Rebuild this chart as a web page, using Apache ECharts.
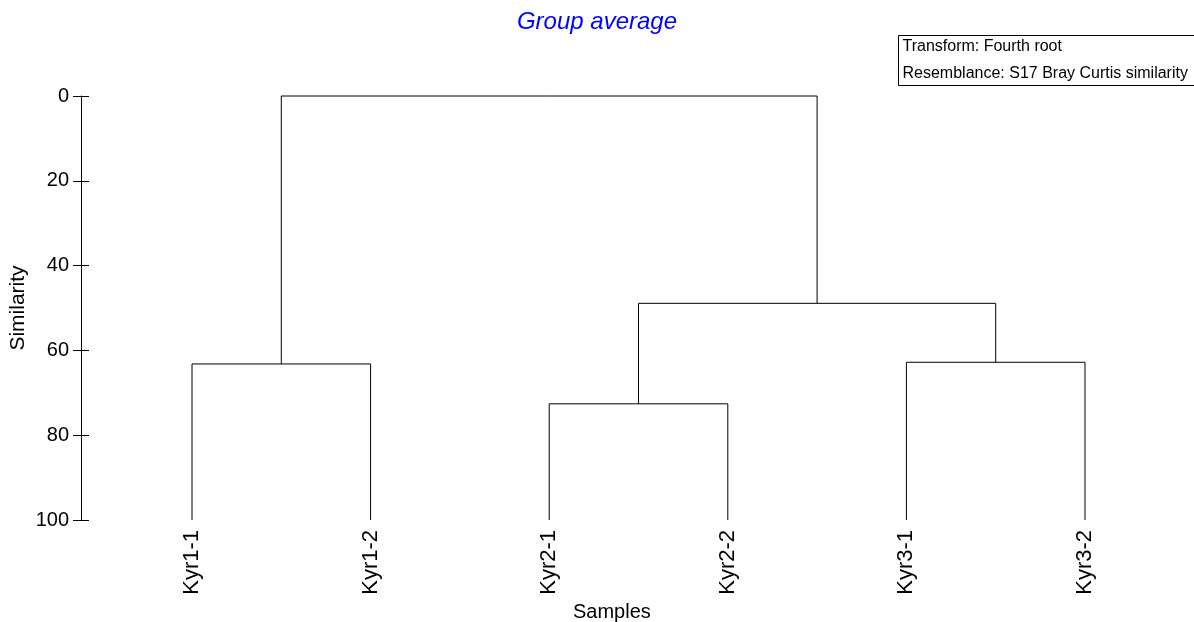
<!DOCTYPE html>
<html>
<head>
<meta charset="utf-8">
<title>Group average</title>
<script src="https://cdn.jsdelivr.net/npm/echarts@6/dist/echarts.min.js"></script>
<style>
  html, body { margin: 0; padding: 0; background: #fff; }
  #chart { width: 1194px; height: 622px; }
</style>
</head>
<body>
<div id="chart"></div>
<script>
// Samples (leaves of the dendrogram), in plotting order
const samples = ['Kyr1-1', 'Kyr1-2', 'Kyr2-1', 'Kyr2-2', 'Kyr3-1', 'Kyr3-2'];

// Agglomeration steps: leaves are ids 0..5, each merge gets the next id (6, 7, ...)
const mergeLeft = [0, 2, 4, 7, 6];
const mergeRight = [1, 3, 5, 8, 9];
const mergeSimilarity = [63.2, 72.6, 62.8, 48.9, 0];

// Similarity axis ticks
const similarityTicks = [0, 20, 40, 60, 80, 100];

const infoLines = ['Transform: Fourth root', 'Resemblance: S17 Bray Curtis similarity'];

// Node positions: leaves sit at their index with similarity 100,
// merged clusters sit midway between their children.
const nodeX = samples.map((_, i) => i);
const nodeH = samples.map(() => 100);
const links = [];
for (let k = 0; k < mergeLeft.length; k++) {
  const a = mergeLeft[k], b = mergeRight[k], h = mergeSimilarity[k];
  links.push([nodeX[a], nodeH[a], nodeX[b], nodeH[b], h]);
  nodeX.push((nodeX[a] + nodeX[b]) / 2);
  nodeH.push(h);
}

const FONT = 'Liberation Sans, Arial, sans-serif';
const axisOffset = 21.7;

const chart = echarts.init(document.getElementById('chart'), null, { renderer: 'canvas' });

const simAxisBase = {
  type: 'value',
  inverse: true,
  min: similarityTicks[0],
  max: similarityTicks[similarityTicks.length - 1],
  interval: similarityTicks[1] - similarityTicks[0],
  position: 'left',
  offset: axisOffset,
  splitLine: { show: false }
};

chart.setOption({
  animation: false,
  backgroundColor: '#ffffff',
  title: {
    text: 'Group average',
    left: 'center',
    top: 5,
    textStyle: { color: '#0000ff', fontStyle: 'italic', fontWeight: 'normal', fontSize: 24, fontFamily: FONT }
  },
  grid: { left: 102.7, right: 19.7, top: 96, bottom: 102, outerBoundsMode: 'none', containLabel: false },
  xAxis: [
    {
      type: 'category',
      data: samples,
      position: 'bottom',
      axisLine: { show: false },
      axisTick: { show: false },
      axisLabel: { rotate: 90, margin: 10, fontSize: 22, color: '#000', fontFamily: FONT }
    },
    {
      type: 'value',
      min: -0.5,
      max: 5.5,
      show: false
    }
  ],
  yAxis: [
    Object.assign({}, simAxisBase, {
      axisLine: { show: true, onZero: false, lineStyle: { color: '#000', width: 1 } },
      axisTick: { show: true, length: 8, lineStyle: { color: '#000', width: 1 } },
      axisLabel: { margin: 12, fontSize: 20, color: '#000', fontFamily: FONT }
    }),
    // inner half of the crossing tick marks
    Object.assign({}, simAxisBase, {
      axisLine: { show: false, onZero: false },
      axisTick: { show: true, inside: true, length: 8, lineStyle: { color: '#000', width: 1 } },
      axisLabel: { show: false }
    })
  ],
  series: [
    {
      type: 'custom',
      xAxisIndex: 1,
      yAxisIndex: 0,
      data: links,
      silent: true,
      renderItem: function (params, api) {
        const xL = api.value(0), hL = api.value(1), xR = api.value(2), hR = api.value(3), h = api.value(4);
        return {
          type: 'polyline',
          shape: {
            points: [
              api.coord([xL, hL]),
              api.coord([xL, h]),
              api.coord([xR, h]),
              api.coord([xR, hR])
            ]
          },
          style: { stroke: '#000', lineWidth: 1, fill: null }
        };
      },
      encode: { x: [0, 2], y: [1, 3, 4] }
    }
  ],
  graphic: [
    {
      // y-axis title
      type: 'text',
      x: 18,
      y: 308,
      rotation: Math.PI / 2,
      style: { text: 'Similarity', fontSize: 21, fill: '#000', fontFamily: FONT, align: 'center', verticalAlign: 'middle' }
    },
    {
      // x-axis title
      type: 'text',
      left: 573,
      top: 602,
      style: { text: 'Samples', fontSize: 20, fill: '#000', fontFamily: FONT }
    },
    {
      type: 'group',
      left: 898,
      top: 35,
      children: [
        {
          type: 'rect',
          shape: { x: 0, y: 0, width: 310, height: 50 },
          style: { fill: '#fff', stroke: '#000', lineWidth: 1 }
        },
        {
          type: 'text',
          x: 4, y: 11,
          style: { text: infoLines[0], fontSize: 16, fill: '#000', fontFamily: FONT, verticalAlign: 'middle' }
        },
        {
          type: 'text',
          x: 4, y: 38,
          style: { text: infoLines[1], fontSize: 16, fill: '#000', fontFamily: FONT, verticalAlign: 'middle' }
        }
      ]
    }
  ]
});
</script>
</body>
</html>
